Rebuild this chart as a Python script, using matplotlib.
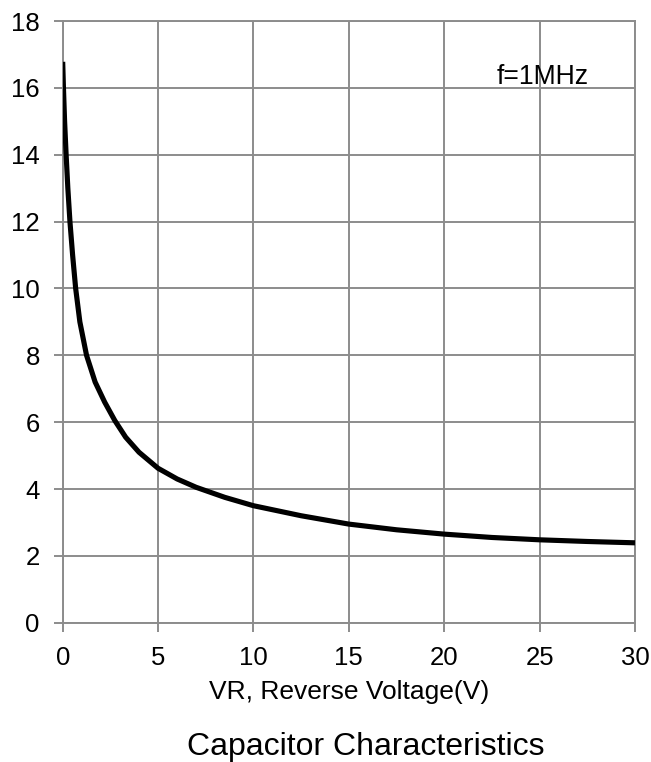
import matplotlib
matplotlib.use("Agg")
import matplotlib.pyplot as plt

# Data
vr = [0, 0.04, 0.1, 0.18, 0.27, 0.38, 0.52, 0.68, 0.9, 1.25, 1.7, 2.2, 2.73, 3.3,
      4.0, 5, 6, 7, 8.5, 10, 12.5, 15, 17.5, 20, 22.5, 25, 27.5, 30]
cap = [16.78, 16.0, 15.0, 14.0, 13.0, 12.0, 11.0, 10.0, 9.0, 8.0, 7.2, 6.6, 6.05, 5.55,
       5.1, 4.62, 4.3, 4.05, 3.75, 3.5, 3.2, 2.95, 2.78, 2.65, 2.55, 2.48, 2.43, 2.39]
x_ticks = [0, 5, 10, 15, 20, 25, 30]
y_ticks = [0, 2, 4, 6, 8, 10, 12, 14, 16, 18]

plt.rcParams['font.family'] = ['Liberation Sans', 'DejaVu Sans']
grid_col = '#8c8c8c'

fig = plt.figure(figsize=(6.51, 7.62), dpi=100)
ax = fig.add_axes([0.0963, 0.1828, 0.8791, 0.7896])

ax.plot(vr, cap, color='black', lw=3.7, solid_joinstyle='round', solid_capstyle='butt', zorder=3)

ax.set_xlim(0, 30)
ax.set_ylim(0, 18)
ax.set_xticks(x_ticks)
ax.set_yticks(y_ticks)
ax.grid(True, color=grid_col, lw=1.4)
ax.set_axisbelow(True)
for s in ax.spines.values():
    s.set_color(grid_col)
    s.set_linewidth(1.4)
ax.tick_params(axis='both', colors=grid_col, length=6.5, width=1.4, pad=10,
               labelcolor='black', labelsize=18.5)

ax.set_xlabel('VR, Reverse Voltage(V)', fontsize=19, va='top')
ax.xaxis.set_label_coords(0.5, (622.7 - 680) / 601.7)

ax.text(22.76, 16.13, 'f=1MHz', fontsize=19.2, va='baseline', ha='left')

fig.text(365.5 / 651, 7 / 762, 'Capacitor Characteristics', fontsize=23,
         ha='center', va='baseline')

fig.savefig('out.png', dpi=100)
